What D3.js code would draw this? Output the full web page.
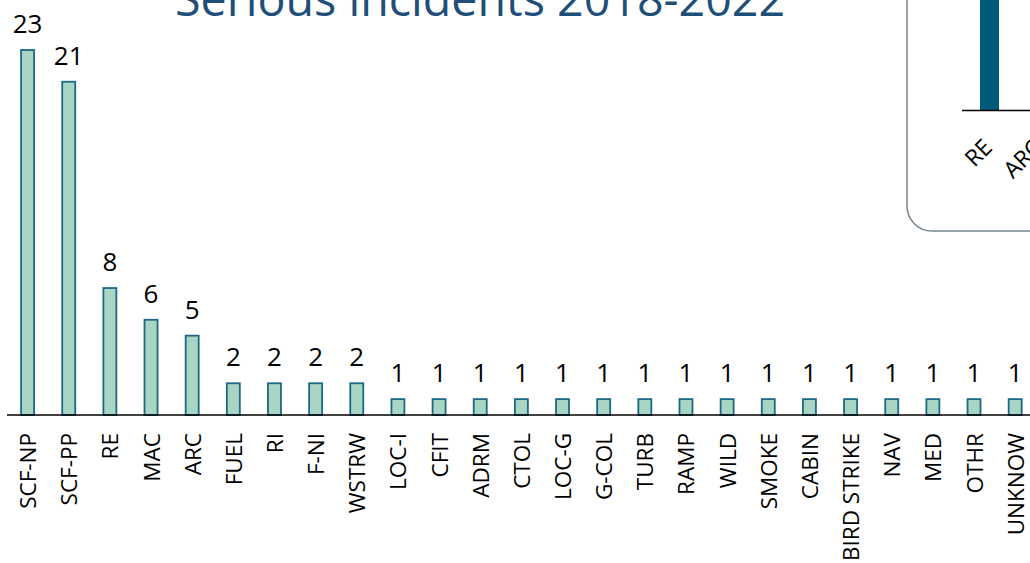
<!DOCTYPE html>
<html>
<head>
<meta charset="utf-8">
<script src="https://cdn.jsdelivr.net/npm/d3@7"></script>
<style>
body { margin: 0; background: #fff; }
svg { display: block; }
</style>
</head>
<body>
<svg id="mainSvg" width="1030" height="563"></svg>
<script>
var categories = ["SCF-NP", "SCF-PP", "RE", "MAC", "ARC", "FUEL", "RI", "F-NI", "WSTRW", "LOC-I", "CFIT", "ADRM", "CTOL", "LOC-G", "G-COL", "TURB", "RAMP", "WILD", "SMOKE", "CABIN", "BIRD STRIKE", "NAV", "MED", "OTHR", "UNKNOW"];
var counts = [23, 21, 8, 6, 5, 2, 2, 2, 2, 1, 1, 1, 1, 1, 1, 1, 1, 1, 1, 1, 1, 1, 1, 1, 1];
var titleText = "Serious incidents 2018-2022";

// inset chart (only the left edge is visible)
var insetCategories = ["RE", "ARC"];
var insetValues = [3, 2];

var W = 1030, H = 563;
var mainSvg = d3.select("#mainSvg");
mainSvg.append("rect").attr("width", W).attr("height", H).attr("fill", "#fff");

var baseY = 415;
var x = d3.scaleBand().domain(categories).range([7, 7 + 25 * 41.15]).paddingInner(0.684).paddingOuter(0.342);
var y = d3.scaleLinear().domain([0, d3.max(counts)]).range([baseY, 50]);

var data = categories.map(function(c, i) { return {cat: c, val: counts[i]}; });

// title
mainSvg.append("text").attr("x", 175).attr("y", 16)
	.attr("font-family", "'Open Sans', sans-serif").attr("font-size", "46.6px")
	.attr("fill", "#1F4E79").text(titleText);

// inset box
var inset = mainSvg.append("g");
inset.append("rect").attr("x", 907).attr("y", -40).attr("width", 220).attr("height", 271).attr("rx", 25)
	.attr("fill", "#fff").attr("stroke", "#76858F").attr("stroke-width", 1.5);
var ix = d3.scaleBand().domain(insetCategories).range([964.5, 1064.5]).paddingInner(0.62).paddingOuter(0.31);
var iy = d3.scaleLinear().domain([0, 3]).range([110.5, -20]);
inset.selectAll("rect.ibar").data(insetCategories).enter().append("rect").attr("class", "ibar")
	.attr("x", function(d) { return ix(d); })
	.attr("y", function(d, i) { return iy(insetValues[i]); })
	.attr("width", ix.bandwidth())
	.attr("height", function(d, i) { return iy(0) - iy(insetValues[i]); })
	.attr("fill", "#005A7A");
inset.append("line").attr("x1", 962).attr("x2", W).attr("y1", 110.5).attr("y2", 110.5)
	.attr("stroke", "#000").attr("stroke-width", 1.5);
inset.selectAll("text").data(insetCategories).enter().append("text")
	.attr("transform", function(d) { return "translate(" + (ix(d) + ix.bandwidth() / 2 + 4) + ",149) rotate(-45)"; })
	.attr("text-anchor", "end")
	.attr("font-family", "'Open Sans', sans-serif").attr("font-size", "23px").attr("fill", "#000")
	.text(function(d) { return d; });

// bars
mainSvg.selectAll("rect.bar").data(data).enter().append("rect").attr("class", "bar")
	.attr("x", function(d) { return x(d.cat); })
	.attr("y", function(d) { return y(d.val); })
	.attr("width", x.bandwidth())
	.attr("height", function(d) { return baseY - y(d.val); })
	.attr("fill", "#A9D5C5").attr("stroke", "#1D6887").attr("stroke-width", 1.8);

// axis line
mainSvg.append("line").attr("x1", 7).attr("x2", W).attr("y1", baseY).attr("y2", baseY)
	.attr("stroke", "#000").attr("stroke-width", 1.5);

// value labels
mainSvg.selectAll("text.val").data(data).enter().append("text").attr("class", "val")
	.attr("x", function(d) { return x(d.cat) + x.bandwidth() / 2; })
	.attr("y", function(d) { return y(d.val) - 17; })
	.attr("text-anchor", "middle")
	.attr("font-family", "'Open Sans', sans-serif").attr("font-size", "26px").attr("fill", "#000")
	.text(function(d) { return d.val; });

// category labels
mainSvg.selectAll("text.cat").data(data).enter().append("text").attr("class", "cat")
	.attr("transform", function(d) { return "translate(" + (x(d.cat) + x.bandwidth() / 2 + 8.5) + ",433) rotate(-90)"; })
	.attr("text-anchor", "end")
	.attr("font-family", "'Open Sans', sans-serif").attr("font-size", "22.5px").attr("fill", "#000")
	.text(function(d) { return d.cat; });
</script>
</body>
</html>
